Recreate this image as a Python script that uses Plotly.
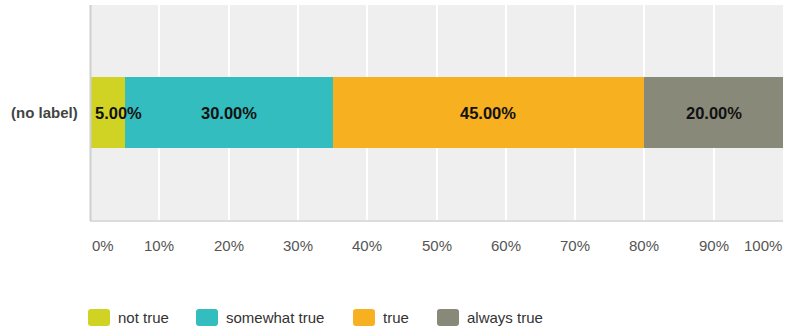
import plotly.graph_objects as go

# Survey answers for a single question, shown as one 100% stacked bar
category = "(no label)"
answers = ["not true", "somewhat true", "true", "always true"]
shares = [5.0, 30.0, 45.0, 20.0]
colors = ["#d0d324", "#33bdbf", "#f7b01f", "#898979"]
tick_values = [0, 10, 20, 30, 40, 50, 60, 70, 80, 90, 100]
tick_labels = [f"{v}%" for v in tick_values]

W, H = 787, 329
L, R, T, B = 90, 4, 5, 109
PW, PH = W - L - R, H - T - B
FONT = "Liberation Sans, Arial, sans-serif"


def px_x(px):
    return (px - L) / PW


def px_y(py):
    return (H - B - py) / PH


fig = go.Figure()
for name, val, col in zip(answers, shares, colors):
    fig.add_trace(go.Bar(
        y=[category], x=[val], name=name, orientation="h",
        marker=dict(color=col, line=dict(width=0)),
        width=0.326, showlegend=False, hoverinfo="x+name",
    ))

annotations = []
shapes = []

# value labels inside the segments
start = 0.0
for val in shares:
    label = f"{val:.2f}%"
    if val < 8:
        annotations.append(dict(x=start, y=category, xref="x", yref="y",
                                text=f"<b>{label}</b>", showarrow=False,
                                xanchor="left", xshift=3,
                                font=dict(family=FONT, size=16.5, color="#111")))
    else:
        annotations.append(dict(x=start + val / 2, y=category, xref="x", yref="y",
                                text=f"<b>{label}</b>", showarrow=False,
                                xanchor="center",
                                font=dict(family=FONT, size=16.5, color="#111")))
    start += val

# category label
annotations.append(dict(x=px_x(80), y=category, xref="paper", yref="y",
                        text=f"<b>{category}</b>", showarrow=False, xanchor="right",
                        font=dict(family=FONT, size=15, color="#444")))

# x tick labels
for v, t in zip(tick_values, tick_labels):
    anchor = "left" if v == tick_values[0] else ("right" if v == tick_values[-1] else "center")
    annotations.append(dict(x=v, y=px_y(245), xref="x", yref="paper", text=t,
                            showarrow=False, xanchor=anchor, yanchor="middle",
                            xshift=1 if anchor == "right" else 0,
                            font=dict(family=FONT, size=15, color="#555")))

# axis frame lines
shapes.append(dict(type="line", xref="paper", yref="paper", x0=0, x1=1,
                   y0=px_y(221), y1=px_y(221), line=dict(color="#dcdcdc", width=2)))
shapes.append(dict(type="line", xref="paper", yref="paper", x0=px_x(90.5), x1=px_x(90.5),
                   y0=px_y(5), y1=px_y(221), line=dict(color="#cfcfcf", width=2)))


def rounded_rect(x0, y0, x1, y1, r):
    X = px_x
    Y = px_y
    return (f"M {X(x0 + r)} {Y(y0)} L {X(x1 - r)} {Y(y0)} Q {X(x1)} {Y(y0)} {X(x1)} {Y(y0 + r)} "
            f"L {X(x1)} {Y(y1 - r)} Q {X(x1)} {Y(y1)} {X(x1 - r)} {Y(y1)} "
            f"L {X(x0 + r)} {Y(y1)} Q {X(x0)} {Y(y1)} {X(x0)} {Y(y1 - r)} "
            f"L {X(x0)} {Y(y0 + r)} Q {X(x0)} {Y(y0)} {X(x0 + r)} {Y(y0)} Z")


# legend drawn as swatches and labels
legend_x = [88, 196, 353, 437]
for lx, name, col in zip(legend_x, answers, colors):
    shapes.append(dict(type="path", xref="paper", yref="paper",
                       path=rounded_rect(lx, 309, lx + 22, 326, 3),
                       fillcolor=col, line=dict(width=0)))
    annotations.append(dict(x=px_x(lx + 28), y=px_y(317.5), xref="paper", yref="paper",
                            text=name, showarrow=False, xanchor="left", yanchor="middle",
                            font=dict(family=FONT, size=15, color="#333")))

fig.update_layout(
    width=W, height=H,
    margin=dict(l=L, r=R, t=T, b=B),
    barmode="stack",
    paper_bgcolor="white",
    plot_bgcolor="#efefef",
    showlegend=False,
    annotations=annotations,
    shapes=shapes,
    xaxis=dict(range=[0, 100], tickvals=tick_values, showticklabels=False,
               showgrid=True, gridcolor="white", gridwidth=2, zeroline=False,
               showline=False, fixedrange=True),
    yaxis=dict(range=[-0.5, 0.5], showticklabels=False, showgrid=False,
               zeroline=False, showline=False, fixedrange=True),
)

fig.write_html("out.html", config={"displayModeBar": False})
